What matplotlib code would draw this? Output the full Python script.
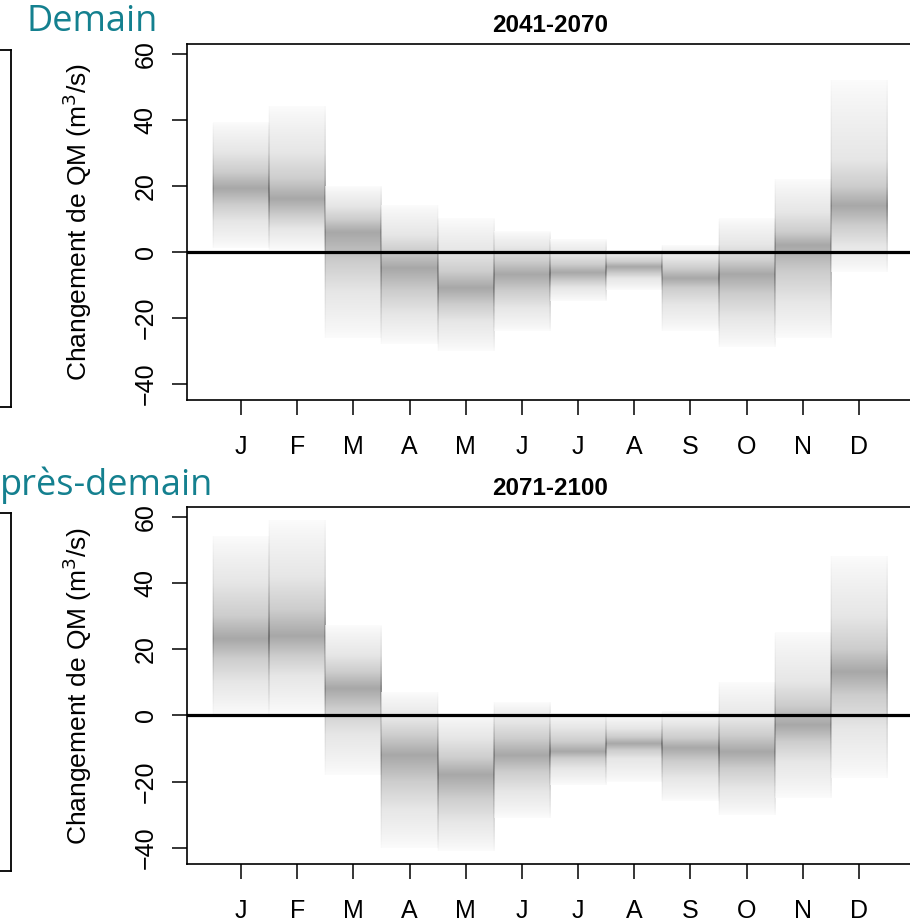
import numpy as np
import matplotlib
matplotlib.use("Agg")
import matplotlib.pyplot as plt
from matplotlib.lines import Line2D
from matplotlib.collections import LineCollection

plt.rcParams['font.family'] = ['Liberation Sans', 'DejaVu Sans']

months = ['J', 'F', 'M', 'A', 'M', 'J', 'J', 'A', 'S', 'O', 'N', 'D']
levels = [0.0, 0.10, 0.25, 0.50, 0.75, 0.90, 1.0]

# 2041-2070 : min, q10, q25, median, q75, q90, max per month
p1_min = [1, 0.5, -26, -28, -30, -24, -15, -11.5, -24, -29, -26, -6]
p1_q10 = [9, 7, -12, -19, -21, -17, -11, -8, -16, -20, -15, 2]
p1_q25 = [14, 11, -3, -12, -16, -12, -9, -6.5, -11, -13, -6, 8]
p1_med = [19, 16, 6, -5, -11, -7, -6.5, -4.5, -8, -7, 2, 14]
p1_q75 = [24, 22, 10, 0, -6, -3, -4, -3, -5, -3, 6, 20]
p1_q90 = [30, 30, 14, 5, 0, 1, -1, -1, -2, 2, 12, 28]
p1_max = [39, 44, 20, 14, 10, 6, 3.5, 0.5, 2, 10, 22, 52]

# 2071-2100
p2_min = [0, 0.5, -18, -40, -41, -31, -21, -20, -26, -30, -25, -19]
p2_q10 = [10, 12, -6, -28, -32, -23, -16, -13, -19, -22, -14, -4]
p2_q25 = [17, 18, 2, -20, -25, -17, -13, -10.5, -14, -16, -8, 6]
p2_med = [23, 24, 8, -12, -18, -12, -11, -8.5, -10, -11, -3, 13]
p2_q75 = [30, 32, 13, -6, -13, -7, -8, -6.5, -7, -6, 3, 20]
p2_q90 = [40, 42, 18, -1, -7, -2, -4, -4, -3, -1, 10, 30]
p2_max = [54, 59, 27, 7, 0.5, 4, 0.5, 0, 1, 10, 25, 48]

panels = [
    ('2041-2070', [p1_min, p1_q10, p1_q25, p1_med, p1_q75, p1_q90, p1_max]),
    ('2071-2100', [p2_min, p2_q10, p2_q25, p2_med, p2_q75, p2_q90, p2_max]),
]
period_names = ['Demain', 'près-demain']
teal = '#14808f'

W, H = 910, 922
fig = plt.figure(figsize=(W / 100, H / 100), dpi=100)

# axes boxes in pixels: top, bottom
boxes = [(44, 400), (507, 864)]
left_px, right_px = 187, 913


def shade(qs, y):
    p = np.interp(y, qs, levels)
    d = 1 - np.abs(2 * p - 1)
    return 0.012 + 0.33 * d ** 0.85


def draw_bar(ax, x, qs):
    lo, hi = qs[0], qs[-1]
    y = np.linspace(lo, hi, 400)
    dark = shade(qs, y)
    g = 1 - dark
    img = np.dstack([g, g, g]).reshape(len(y), 1, 3)
    ax.imshow(img, extent=(x - 0.5, x + 0.5, lo, hi), aspect='auto',
              origin='lower', interpolation='bilinear', zorder=1)
    # thin edge lines, fading with the shading
    ym = 0.5 * (y[1:] + y[:-1])
    dm = shade(qs, ym)
    cols = np.zeros((len(ym), 4))
    cols[:, 3] = np.clip(dm * 0.65, 0, 1)
    for e in (x - 0.5, x + 0.5):
        segs = [[(e, y[i]), (e, y[i + 1])] for i in range(len(ym))]
        ax.add_collection(LineCollection(segs, colors=cols, linewidths=1.1, zorder=2))


for k, (title, q) in enumerate(panels):
    top, bot = boxes[k]
    ax = fig.add_axes([left_px / W, 1 - bot / H, (right_px - left_px) / W, (bot - top) / H])
    x = np.arange(1, 13)
    for i in range(12):
        qs = [q[j][i] for j in range(7)]
        draw_bar(ax, x[i], qs)
    ax.axhline(0, color='black', lw=2.3, zorder=3)
    ax.set_xlim(0.04, 12.96)
    ax.set_ylim(-44.9, 62.9)
    ax.set_xticks(x)
    ax.set_xticklabels(months)
    ax.set_yticks([-40, -20, 0, 20, 40, 60])
    ax.tick_params(axis='both', direction='out', length=11, width=1.1, labelsize=18)
    ax.tick_params(axis='x', pad=14)
    ax.tick_params(axis='y', pad=10)
    for lab in ax.get_yticklabels():
        lab.set_rotation(90)
        lab.set_va('center')
    for s in ax.spines.values():
        s.set_linewidth(1.2)
    ax.set_title(title, fontsize=17.5, fontweight='bold', pad=9)
    fig.text(77 / W, 1 - (top + bot) / 2 / H, 'Changement de QM (m$^3$/s)',
             rotation=90, ha='center', va='center', fontsize=19)

    # partial boxes at the left edge
    y0, y1 = 1 - (top + 6) / H, 1 - (bot + 7) / H
    xb = 11 / W
    for xs, ys in [([xb, xb], [y0, y1]), ([0, xb], [y0, y0]), ([0, xb], [y1, y1])]:
        fig.add_artist(Line2D(xs, ys, color='black', lw=1.3))

    fig.text(27 / W if k == 0 else 0, 1 - (top - 22) / H, period_names[k],
             color=teal, fontsize=26, family=['Open Sans', 'DejaVu Sans'],
             ha='left', va='center')

fig.savefig('out.png', dpi=100)
